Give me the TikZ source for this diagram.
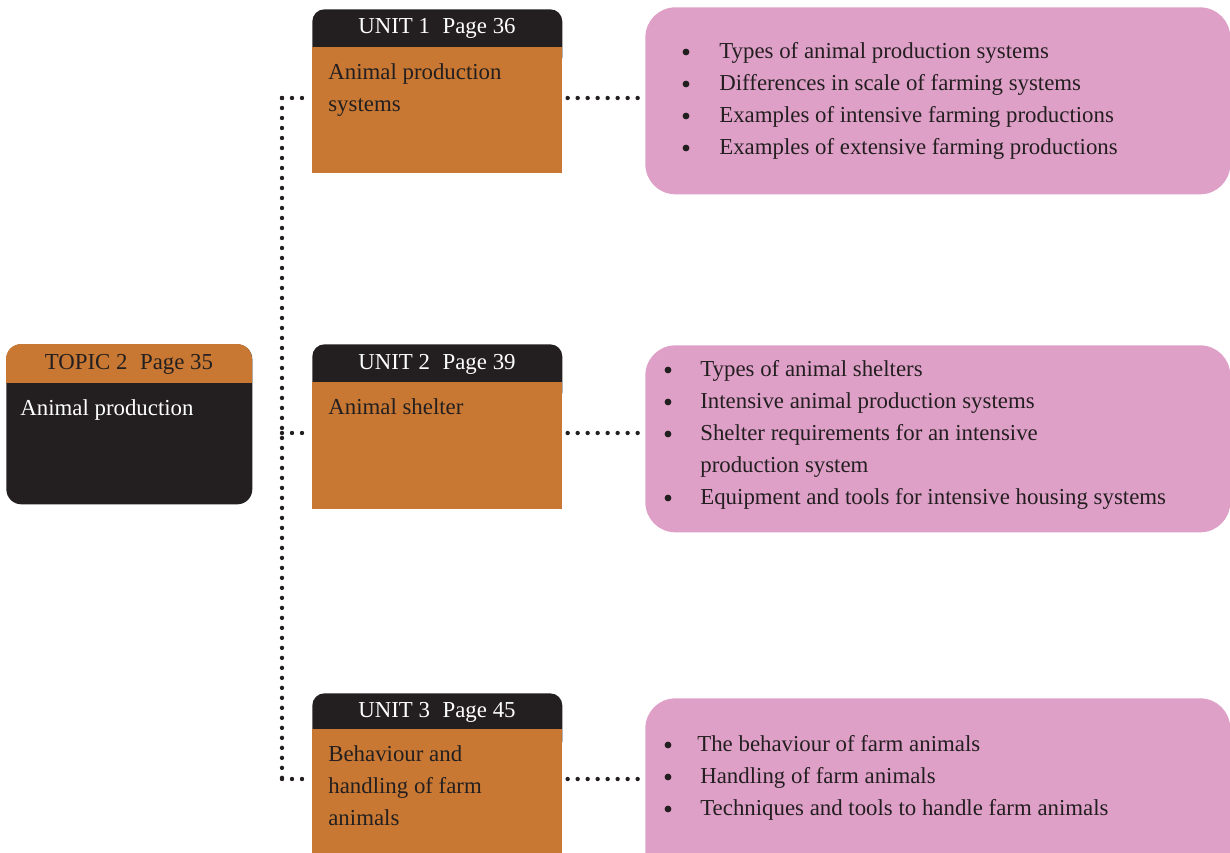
\documentclass[tikz,border=0pt]{standalone}
\usepackage{fontspec}
\setmainfont{Liberation Serif}
\definecolor{ocre}{HTML}{C87832}
\definecolor{ink}{HTML}{231F20}
\definecolor{rose}{HTML}{DFA0C8}
\begin{document}
\begin{tikzpicture}[x=0.02cm, y=-0.02cm, line join=round, line cap=round,
	every node/.style={font=\fontsize{13}{18}\selectfont, inner sep=0pt},
	txt/.style={anchor=base west, text=ink},
	head/.style={anchor=base},
	headbox/.style={fill=ink, rounded corners=0.24cm, anchor=north west, minimum width=5cm, minimum height=1.2cm},
	unitbox/.style={fill=ocre, anchor=north west, minimum width=5cm, minimum height=2.53cm},
	rosebox/.style={fill=rose, rounded corners=0.6cm, anchor=north west, minimum width=11.7cm, minimum height=3.74cm},
	dotline/.style={draw=ink, line width=2.5pt, dash pattern=on 0pt off 0.2cm}]
	\def\bul#1#2{\fill[ink] (#1-33,#2-6) circle (0.068cm);} % bullet left of an item
	\useasboundingbox (0,0) rectangle (1230,852);
	\clip (0,0) rectangle (1230,852);
	% topic
	\node[fill=ink, rounded corners=0.3cm, anchor=north west, minimum width=4.92cm, minimum height=3.2cm] (t2) at (6,344) {};
	\begin{scope}
		\clip (6,344) rectangle (252,382);
		\fill[ocre, rounded corners=0.3cm] (6,344) rectangle (252,504);
	\end{scope}
	\node[head, text=ink] (t2h) at (129,369) {TOPIC 2\hspace{0.55em}Page 35};
	\node[txt, text=white] (t2a) at (20,415) {Animal production};
	% units
	\node[headbox] (h1) at (312,9) {};
	\node[unitbox] (u1) at (312,46.5) {};
	\node[head, text=white] (h1t) at (437,33) {UNIT 1\hspace{0.55em}Page 36};
	\node[txt] (u1a) at (328,79) {Animal production};
	\node[txt] (u1b) at (328,111) {systems};
	\node[headbox] (h2) at (312,344) {};
	\node[unitbox] (u2) at (312,382) {};
	\node[head, text=white] (h2t) at (437,369) {UNIT 2\hspace{0.55em}Page 39};
	\node[txt] (u2a) at (328,414) {Animal shelter};
	\node[headbox] (h3) at (312,693) {};
	\node[unitbox] (u3) at (312,729) {};
	\node[head, text=white] (h3t) at (437,717) {UNIT 3\hspace{0.55em}Page 45};
	\node[txt] (u3a) at (328,761) {Behaviour and};
	\node[txt] (u3b) at (328,793) {handling of farm};
	\node[txt] (u3c) at (328,825) {animals};
	% contents
	\node[rosebox] (p1) at (645,7) {};
	\bul{719}{58} \node[txt] (p1a) at (719,58) {Types of animal production systems};
	\bul{719}{90} \node[txt] (p1b) at (719,90) {Differences in scale of farming systems};
	\bul{719}{122} \node[txt] (p1c) at (719,122) {Examples of intensive farming productions};
	\bul{719}{154} \node[txt] (p1d) at (719,154) {Examples of extensive farming productions};
	\node[rosebox] (p2) at (645,345) {};
	\bul{701}{376} \node[txt] (p2a) at (700,376) {Types of animal shelters};
	\bul{701}{408} \node[txt] (p2b) at (700,408) {Intensive animal production systems};
	\bul{701}{440} \node[txt] (p2c) at (700,440) {Shelter requirements for an intensive};
	\node[txt] (p2d) at (700,472) {production system};
	\bul{701}{504} \node[txt] (p2e) at (700,504) {Equipment and tools for intensive housing systems};
	\node[rosebox] (p3) at (645,698) {};
	\bul{701}{751} \node[txt] (p3a) at (697,751) {The behaviour of farm animals};
	\bul{701}{783} \node[txt] (p3b) at (700,783) {Handling of farm animals};
	\bul{701}{815} \node[txt] (p3c) at (700,815) {Techniques and tools to handle farm animals};
	% dotted links
	\coordinate (k1) at (282,98);
	\coordinate (k2) at (282,433);
	\coordinate (k3) at (282,779);
	\draw[dotline] (k1) -- (k3);
	\draw[dotline, shorten >=0.14cm] (k1) -- (u1.west |- k1);
	\draw[dotline, shorten >=0.14cm] (k2) -- (u2.west |- k2);
	\draw[dotline, shorten >=0.14cm] (k3) -- (u3.west |- k3);
	\draw[dotline, shorten <=0.1cm, shorten >=0.14cm] (u1.east |- k1) -- (p1.west |- k1);
	\draw[dotline, shorten <=0.1cm, shorten >=0.14cm] (u2.east |- k2) -- (p2.west |- k2);
	\draw[dotline, shorten <=0.1cm, shorten >=0.14cm] (u3.east |- k3) -- (p3.west |- k3);
\end{tikzpicture}
\end{document}
